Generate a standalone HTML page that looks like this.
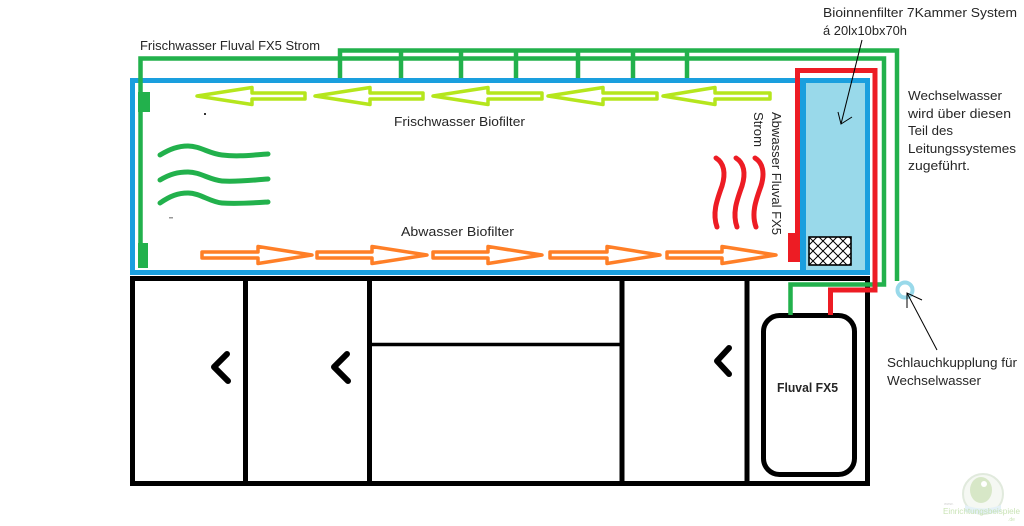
<!DOCTYPE html>
<html><head><meta charset="utf-8"><style>
html,body{margin:0;padding:0;background:#fff;}
svg{display:block;}
text{font-family:"Liberation Sans",sans-serif;fill:#262626;}
</style></head><body>
<svg width="1024" height="526" viewBox="0 0 1024 526" xmlns="http://www.w3.org/2000/svg">
<rect x="0" y="0" width="1024" height="526" fill="#fff"/>
<defs>
<clipPath id="mc"><rect x="809" y="237" width="42" height="28"/></clipPath>
</defs>

<!-- green upper pipe + drops -->
<g stroke="#22b14c" stroke-width="4.5" fill="none">
<path d="M340,80 V50.5 H897 V281"/>
<path d="M401,50 V80 M461,50 V80 M516,50 V80 M578,50 V80 M633,50 V80 M687,50 V80"/>
</g>

<!-- tank -->
<rect x="805" y="83" width="61" height="187" fill="#99d9ea"/>
<rect x="132.5" y="80.5" width="735" height="192" fill="none" stroke="#1a9fde" stroke-width="5"/>
<line x1="803" y1="80" x2="803" y2="272" stroke="#1a9fde" stroke-width="6"/>

<!-- mesh -->
<rect x="809" y="237" width="42" height="28" fill="#fff"/>
<g clip-path="url(#mc)" stroke="#000" stroke-width="1">
<path d="M799,237 L827,265 M809,237 L837,265 M819,237 L847,265 M829,237 L857,265 M839,237 L867,265 M789,237 L817,265 M849,237 L877,265"/>
<path d="M827,237 L799,265 M837,237 L809,265 M847,237 L819,265 M857,237 L829,265 M867,237 L839,265 M877,237 L849,265 M817,237 L789,265"/>
</g>
<rect x="809" y="237" width="42" height="28" fill="none" stroke="#000" stroke-width="1.6"/>

<!-- cabinet -->
<g stroke="#000" fill="none">
<rect x="132.5" y="278.5" width="735" height="205" stroke-width="5"/>
<line x1="245.5" y1="279" x2="245.5" y2="484" stroke-width="5"/>
<line x1="369.5" y1="279" x2="369.5" y2="484" stroke-width="5"/>
<line x1="622" y1="279" x2="622" y2="484" stroke-width="5"/>
<line x1="747" y1="279" x2="747" y2="484" stroke-width="5"/>
<line x1="370" y1="344.5" x2="622" y2="344.5" stroke-width="3.5"/>
<rect x="763.5" y="315.5" width="91" height="159" rx="16" stroke-width="5"/>
</g>
<g stroke="#000" stroke-width="6" fill="none" stroke-linecap="round" stroke-linejoin="round">
<polyline points="227,354 214,367 228,381"/>
<polyline points="347,354 334,367 348,381"/>
<polyline points="729,348 717,361 729,374"/>
</g>

<!-- green lower pipe -->
<path d="M140.5,268 V58.5 H884 V284.5 H790.5 V315" stroke="#22b14c" stroke-width="4.5" fill="none"/>
<rect x="138" y="92" width="12" height="20" fill="#22b14c"/>
<rect x="138" y="243" width="10" height="25" fill="#22b14c"/>

<!-- red pipe -->
<path d="M797.5,262 V70.5 H875 V290 H830.5 V315" stroke="#ed1c24" stroke-width="5" fill="none"/>
<rect x="788" y="233" width="12" height="29" fill="#ed1c24"/>

<!-- coupling -->
<circle cx="905" cy="290" r="7.5" fill="#fff" stroke="#99d9ea" stroke-width="4"/>

<!-- lime arrows (left) -->
<g stroke="#b5e61d" stroke-width="3.5" fill="#fff" stroke-linejoin="round">
<polygon points="197,96 252,87.5 252,93 305,93 305,99 252,99 252,104.5"/>
<polygon points="315,96 370,87.5 370,93 423,93 423,99 370,99 370,104.5"/>
<polygon points="433,96 488,87.5 488,93 542,93 542,99 488,99 488,104.5"/>
<polygon points="548,96 603,87.5 603,93 657,93 657,99 603,99 603,104.5"/>
<polygon points="663,96 715,87.5 715,93 770,93 770,99 715,99 715,104.5"/>
</g>

<!-- orange arrows (right) -->
<g stroke="#ff7f27" stroke-width="3.5" fill="#fff" stroke-linejoin="round">
<polygon points="312,255 258,246.5 258,252 202,252 202,258 258,258 258,263.5"/>
<polygon points="427,255 372,246.5 372,252 317,252 317,258 372,258 372,263.5"/>
<polygon points="542,255 488,246.5 488,252 433,252 433,258 488,258 488,263.5"/>
<polygon points="660,255 607,246.5 607,252 550,252 550,258 607,258 607,263.5"/>
<polygon points="776,255 722,246.5 722,252 667,252 667,258 722,258 722,263.5"/>
</g>

<!-- green waves -->
<g stroke="#22b14c" stroke-width="5" fill="none" stroke-linecap="round">
<path d="M160,155 C170,149 178,146 188,146 C200,146 210,154 222,155 C238,157 252,155 268,154"/>
<path d="M160,180 C170,174 178,172 188,172 C200,172 210,180 222,181 C238,182 252,180 268,179"/>
<path d="M160,203 C170,196 178,193 188,193 C200,193 210,202 222,203 C238,204 252,203 268,202"/>
</g>

<!-- red waves -->
<g stroke="#ed1c24" stroke-width="5" fill="none" stroke-linecap="round">
<path d="M716,158 C724,163 726,173 722,186 C717,200 712,213 717,227"/>
<path d="M736,158 C744,163 746,173 742,186 C737,200 732,213 737,227"/>
<path d="M755,158 C763,163 765,173 761,186 C756,200 751,213 756,227"/>
</g>

<!-- small dots -->
<rect x="204" y="113" width="2" height="2" fill="#333"/>
<rect x="169" y="217" width="4" height="1.5" fill="#999"/>

<!-- pointer lines -->
<g stroke="#000" stroke-width="1" fill="none">
<line x1="862" y1="40" x2="841" y2="124"/>
<polyline points="838,112 841,124 852,117"/>
<line x1="937" y1="350" x2="907" y2="293"/>
<polyline points="907,308 907,293 922,300"/>
</g>

<!-- text -->
<g font-size="13">
<text x="140" y="50" textLength="180" lengthAdjust="spacingAndGlyphs">Frischwasser Fluval FX5 Strom</text>
<text x="394" y="126" textLength="131" lengthAdjust="spacingAndGlyphs">Frischwasser Biofilter</text>
<text x="401" y="236" textLength="113" lengthAdjust="spacingAndGlyphs">Abwasser Biofilter</text>
<text transform="translate(772,112) rotate(90)" textLength="123" lengthAdjust="spacingAndGlyphs">Abwasser Fluval FX5</text>
<text transform="translate(754,112) rotate(90)" textLength="35" lengthAdjust="spacingAndGlyphs">Strom</text>
<text x="823" y="17" textLength="194" lengthAdjust="spacingAndGlyphs">Bioinnenfilter 7Kammer System</text>
<text x="823" y="35" textLength="84" lengthAdjust="spacingAndGlyphs">á 20lx10bx70h</text>
<text x="908" y="100" textLength="94" lengthAdjust="spacingAndGlyphs">Wechselwasser</text>
<text x="908" y="118" textLength="103" lengthAdjust="spacingAndGlyphs">wird über diesen</text>
<text x="908" y="135" textLength="45" lengthAdjust="spacingAndGlyphs">Teil des</text>
<text x="908" y="153" textLength="108" lengthAdjust="spacingAndGlyphs">Leitungssystemes</text>
<text x="908" y="170" textLength="62" lengthAdjust="spacingAndGlyphs">zugeführt.</text>
<text x="887" y="367" textLength="130" lengthAdjust="spacingAndGlyphs">Schlauchkupplung für</text>
<text x="887" y="385" textLength="94" lengthAdjust="spacingAndGlyphs">Wechselwasser</text>
<text x="777" y="392" font-weight="bold" textLength="61" lengthAdjust="spacingAndGlyphs">Fluval FX5</text>
</g>

<!-- logo -->
<g opacity="0.55">
<circle cx="983" cy="494" r="20" fill="#eef3ea" stroke="#c9d9c2" stroke-width="2"/>
<path d="M965,505 Q983,512 1001,505 L1001,512 Q983,516 965,512 Z" fill="#cfe6f2"/>
<ellipse cx="981" cy="490" rx="11" ry="13" fill="#b8d49a"/>
<circle cx="984" cy="484" r="3" fill="#fff"/>
<text x="943" y="514" font-size="8.5" style="fill:#9ccc78" textLength="77" lengthAdjust="spacingAndGlyphs">Einrichtungsbeispiele</text>
<text x="944" y="505" font-size="4" style="fill:#aaa">www.</text>
<text x="1008" y="521" font-size="5" style="fill:#9ccc78">.de</text>
</g>
</svg>
</body></html>
